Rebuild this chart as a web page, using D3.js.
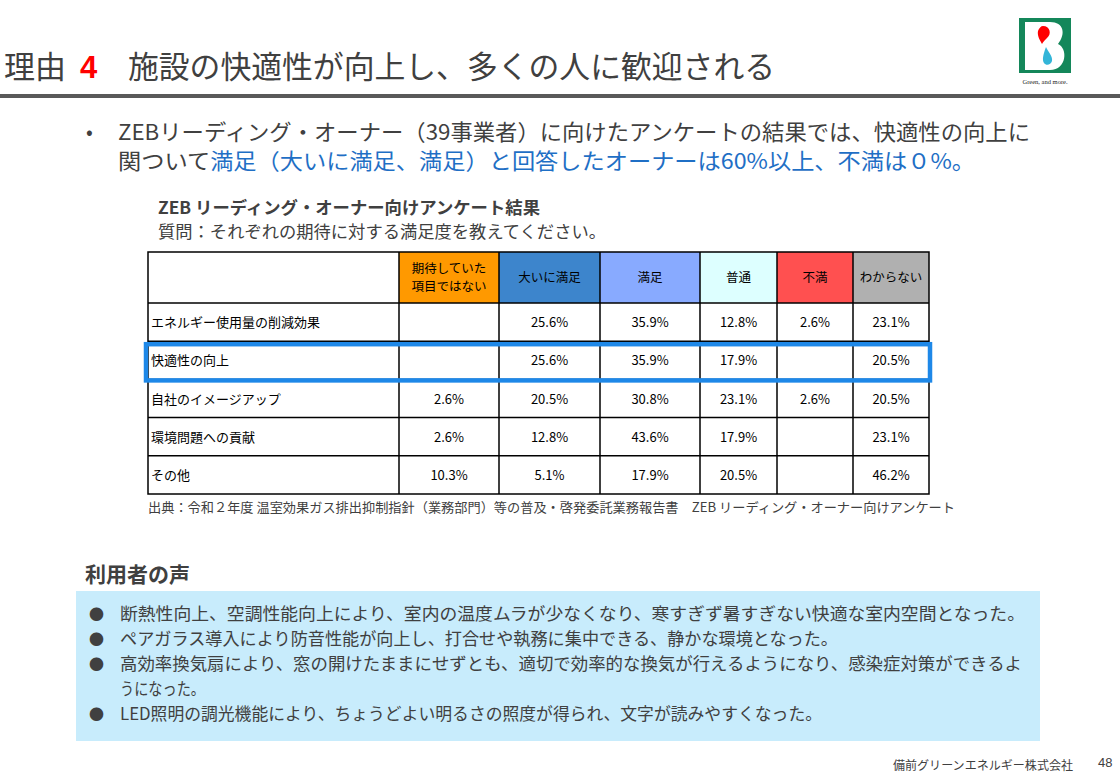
<!DOCTYPE html>
<html><head><meta charset="utf-8">
<script src="https://cdn.jsdelivr.net/npm/d3@7"></script>
<style>
html,body{margin:0;padding:0;background:#fff;}
svg{font-family:"Noto Sans CJK JP","Noto Sans",sans-serif;}
</style></head>
<body>
<svg id="c" width="1120" height="775"></svg>
<script>
// ---- data ----
const columns = ["期待していた\n項目ではない","大いに満足","満足","普通","不満","わからない"];
const columnColors = ["#ff9900","#3d85cc","#88aaff","#ddffff","#ff5050","#b0b0b0"];
const rowLabels = ["エネルギー使用量の削減効果","快適性の向上","自社のイメージアップ","環境問題への貢献","その他"];
const notExpected = [null, null, 2.6, 2.6, 10.3];
const verySatisfied = [25.6, 25.6, 20.5, 12.8, 5.1];
const satisfied = [35.9, 35.9, 30.8, 43.6, 17.9];
const neutral = [12.8, 17.9, 23.1, 17.9, 20.5];
const dissatisfied = [2.6, null, 2.6, null, null];
const unknown = [23.1, 20.5, 20.5, 23.1, 46.2];
const highlightRow = "快適性の向上";
const voices = [
 "断熱性向上、空調性能向上により、室内の温度ムラが少なくなり、寒すぎず暑すぎない快適な室内空間となった。",
 "ペアガラス導入により防音性能が向上し、打合せや執務に集中できる、静かな環境となった。",
 "高効率換気扇により、窓の開けたままにせずとも、適切で効率的な換気が行えるようになり、感染症対策ができるよ|うになった。",
 "LED照明の調光機能により、ちょうどよい明るさの照度が得られ、文字が読みやすくなった。"
];

const seriesValues = [notExpected, verySatisfied, satisfied, neutral, dissatisfied, unknown];

const svg = d3.select("#c");
const TXT = "#404040";

// ---- title ----
svg.append("text").attr("x",4).attr("y",78).attr("font-size",31).attr("fill",TXT).text("理由");
svg.append("text").attr("x",80).attr("y",78).attr("font-size",31).attr("font-weight","bold")
  .style("font-family","'Liberation Sans', Arial, sans-serif").attr("fill","#ff0000").text("4");
svg.append("text").attr("x",128).attr("y",78).attr("font-size",31).attr("fill",TXT)
  .attr("textLength",647).attr("lengthAdjust","spacingAndGlyphs").text("施設の快適性が向上し、多くの人に歓迎される");
svg.append("rect").attr("x",0).attr("y",94).attr("width",1120).attr("height",4).attr("fill","#595959");

// ---- logo ----
const logo = svg.append("g");
logo.append("rect").attr("x",1019).attr("y",18).attr("width",52).attr("height",55).attr("fill","#14875a");
logo.append("path").attr("fill","#fff")
  .attr("d","M1025,22 L1050,22 C1064,22 1066,34 1058,44 C1068,48 1067,70 1050,70 L1025,70 Z");
logo.append("path").attr("fill","#ff0000")
  .attr("d","M1043,26 C1050,26 1052,34 1047,38 C1045,40 1043,42 1042,44 C1040,40 1037,36 1038,31 C1039,28 1041,26 1043,26 Z");
logo.append("path").attr("fill","#33b5d8")
  .attr("d","M1046,47 C1048,52 1053,56 1052,61 C1051,65 1046,66 1044,63 C1042,60 1043,55 1046,47 Z");
svg.append("text").attr("x",1045).attr("y",84).attr("font-size",6.5).attr("text-anchor","middle")
  .style("font-family","'Liberation Serif', serif").attr("fill","#222").text("Green, and more.");

// ---- bullet text ----
svg.append("text").attr("x",86).attr("y",139).attr("font-size",20).attr("fill",TXT).text("•");
svg.append("text").attr("x",118).attr("y",140).attr("font-size",22).attr("fill",TXT)
  .attr("textLength",912).attr("lengthAdjust","spacingAndGlyphs")
  .text("ZEBリーディング・オーナー（39事業者）に向けたアンケートの結果では、快適性の向上に");
const l2 = svg.append("text").attr("x",118).attr("y",169).attr("font-size",22).attr("fill",TXT)
  .attr("textLength",857).attr("lengthAdjust","spacingAndGlyphs");
l2.append("tspan").text("関ついて");
l2.append("tspan").attr("fill","#1f6fc5").text("満足（大いに満足、満足）と回答したオーナーは60%以上、不満は０%。");

// ---- table heading ----
svg.append("text").attr("x",158).attr("y",214).attr("font-size",17).attr("font-weight","bold").attr("fill",TXT)
  .attr("textLength",382).attr("lengthAdjust","spacingAndGlyphs").text("ZEB リーディング・オーナー向けアンケート結果");
svg.append("text").attr("x",158).attr("y",238).attr("font-size",17).attr("fill",TXT)
  .attr("textLength",448).attr("lengthAdjust","spacingAndGlyphs").text("質問：それぞれの期待に対する満足度を教えてください。");

// ---- table ----
const colEdges = [399, 499, 600, 700, 777, 853, 929];
const tableLeft = 148, tableRight = 929, headTop = 252, headBottom = 303, tableBottom = 494;
const xCol = d3.scaleOrdinal().domain(columns).range(colEdges.slice(0,6));
const wCol = d3.scaleOrdinal().domain(columns).range(colEdges.slice(1).map((e,i)=>e-colEdges[i]));
const yRow = d3.scaleBand().domain(rowLabels).range([headBottom, tableBottom]);

const tbl = svg.append("g");
tbl.selectAll("rect.h").data(columns).join("rect").attr("class","h")
  .attr("x",d=>xCol(d)).attr("y",headTop).attr("width",d=>wCol(d)).attr("height",headBottom-headTop)
  .attr("fill",(d,i)=>columnColors[i]);
tbl.selectAll("text.h").data(columns).join("text").attr("class","h")
  .attr("text-anchor","middle").attr("font-size",12.5).attr("fill","#000")
  .each(function(d){
    const lines = d.split("\n");
    const cx = xCol(d)+wCol(d)/2, cy = (headTop+headBottom)/2;
    const t = d3.select(this);
    lines.forEach((ln,i)=>{
      t.append("tspan").attr("x",cx).attr("y",cy+4.5+(i-(lines.length-1)/2)*18).text(ln);
    });
  });
tbl.selectAll("text.r").data(rowLabels).join("text").attr("class","r")
  .attr("x",tableLeft+3).attr("y",d=>yRow(d)+yRow.bandwidth()/2+5)
  .attr("font-size",13).attr("fill","#000").text(d=>d);
const cells = [];
rowLabels.forEach((r,ri)=>columns.forEach((c,ci)=>{
  const v = seriesValues[ci][ri];
  if (v!==null) cells.push({r,c,v});
}));
tbl.selectAll("text.v").data(cells).join("text").attr("class","v")
  .attr("x",d=>xCol(d.c)+wCol(d.c)/2).attr("y",d=>yRow(d.r)+yRow.bandwidth()/2+5)
  .attr("text-anchor","middle").attr("font-size",13).attr("fill","#000")
  .text(d=>d3.format(".1f")(d.v)+"%");
const gl = tbl.append("g").attr("stroke","#000").attr("stroke-width",1.5);
gl.append("rect").attr("x",tableLeft).attr("y",headTop).attr("width",tableRight-tableLeft)
  .attr("height",tableBottom-headTop).attr("fill","none");
gl.selectAll("line.c").data(colEdges.slice(0,6)).join("line")
  .attr("x1",d=>d).attr("x2",d=>d).attr("y1",headTop).attr("y2",tableBottom);
gl.selectAll("line.r").data(rowLabels).join("line")
  .attr("x1",tableLeft).attr("x2",tableRight).attr("y1",d=>yRow(d)).attr("y2",d=>yRow(d));
tbl.append("rect").attr("x",146).attr("y",yRow(highlightRow)+3).attr("width",784)
  .attr("height",yRow.bandwidth()-2).attr("fill","none").attr("stroke","#1e88e8").attr("stroke-width",4.5);

svg.append("text").attr("x",148).attr("y",512).attr("font-size",13).attr("fill",TXT)
  .attr("textLength",807).attr("lengthAdjust","spacingAndGlyphs")
  .text("出典：令和２年度 温室効果ガス排出抑制指針（業務部門）等の普及・啓発委託業務報告書　ZEB リーディング・オーナー向けアンケート");

// ---- user voices ----
svg.append("text").attr("x",85).attr("y",582).attr("font-size",21).attr("font-weight","bold").attr("fill",TXT)
  .text("利用者の声");
svg.append("rect").attr("x",76).attr("y",591).attr("width",964).attr("height",150).attr("fill","#c8ecfc");
const voiceLines = [];
voices.forEach(v=>{
  const parts = v.split("|");
  parts.forEach((p,i)=>voiceLines.push({text:p, bullet:i===0}));
});
const lineEnds = [1025, 838, 1022, 205, 822];
const lineY = d3.scaleLinear().domain([0, voiceLines.length-1]).range([620, 720]);
const vg = svg.append("g");
voiceLines.forEach((d,i)=>{
  if (d.bullet) vg.append("text").attr("x",89).attr("y",lineY(i)).attr("font-size",15).attr("fill","#404040").text("●");
  vg.append("text").attr("x",120).attr("y",lineY(i)).attr("font-size",17.5).attr("fill",TXT)
    .attr("textLength",lineEnds[i]-120).attr("lengthAdjust","spacingAndGlyphs").text(d.text);
});

// ---- footer ----
svg.append("text").attr("x",893).attr("y",770).attr("font-size",12).attr("fill",TXT)
  .attr("textLength",180).attr("lengthAdjust","spacingAndGlyphs").text("備前グリーンエネルギー株式会社");
svg.append("text").attr("x",1098).attr("y",767).attr("font-size",13).attr("fill",TXT)
  .style("font-family","'Liberation Sans', Arial, sans-serif").text("48");
</script>
</body></html>
